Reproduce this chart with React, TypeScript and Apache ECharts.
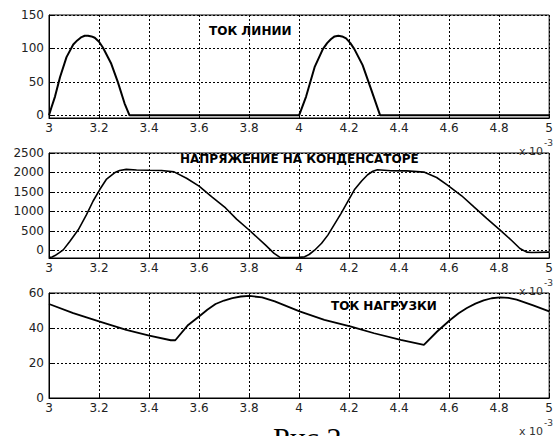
import React, { useEffect, useRef } from "react";
import * as echarts from "echarts";

// ---- data (time in units of 1e-3 s) ----
const lineCurrentT = [3.0, 3.01, 3.024, 3.044, 3.07, 3.097, 3.113, 3.13, 3.143, 3.156, 3.17, 3.183, 3.2, 3.216, 3.249, 3.275, 3.302, 3.322, 4.0, 4.002, 4.028, 4.062, 4.095, 4.112, 4.128, 4.142, 4.157, 4.172, 4.188, 4.205, 4.221, 4.254, 4.287, 4.324, 5.0];
const lineCurrentV = [0, 12, 28, 57, 87, 106, 112, 117, 119, 119, 118, 116, 110, 101, 77, 50, 18, 0, 0, 0, 28, 72, 99, 108, 114, 118, 119, 118, 115, 108, 99, 75, 40, 0, 0];

const voltageT = [3.0, 3.012, 3.024, 3.04, 3.057, 3.083, 3.117, 3.15, 3.176, 3.203, 3.229, 3.262, 3.282, 3.309, 3.35, 3.401, 3.45, 3.5, 3.55, 3.6, 3.65, 3.706, 3.75, 3.799, 3.865, 3.9, 3.925, 3.96, 4.0, 4.022, 4.04, 4.062, 4.09, 4.115, 4.168, 4.221, 4.25, 4.274, 4.295, 4.313, 4.367, 4.43, 4.499, 4.55, 4.592, 4.65, 4.698, 4.75, 4.804, 4.85, 4.883, 4.91, 4.93, 5.0];
const voltageV = [-185, -175, -138, -70, 9, 224, 526, 914, 1259, 1560, 1819, 1991, 2052, 2078, 2062, 2055, 2050, 2015, 1850, 1647, 1380, 1086, 800, 526, 138, -80, -190, -190, -185, -170, -110, 0, 180, 388, 948, 1552, 1780, 1940, 2030, 2069, 2043, 2040, 2009, 1870, 1681, 1400, 1120, 820, 517, 250, 44, -50, -60, -50];

const loadT = [3.0, 3.097, 3.203, 3.309, 3.401, 3.487, 3.505, 3.554, 3.6, 3.633, 3.666, 3.7, 3.733, 3.767, 3.801, 3.852, 3.903, 4.002, 4.101, 4.208, 4.3, 4.406, 4.499, 4.552, 4.605, 4.638, 4.671, 4.705, 4.738, 4.77, 4.804, 4.837, 4.87, 4.936, 5.0];
const loadV = [53.7, 48.5, 43.7, 38.9, 35.7, 33.0, 33.0, 41.4, 46.6, 50.4, 53.7, 55.7, 57.1, 58.0, 58.3, 57.5, 55.2, 49.5, 44.7, 40.8, 37.0, 33.2, 30.3, 38.0, 44.7, 48.4, 51.4, 53.9, 55.8, 57.0, 57.5, 57.2, 56.2, 52.9, 49.5];

const titles = ["ТОК ЛИНИИ", "НАПРЯЖЕНИЕ НА КОНДЕНСАТОРЕ", "ТОК НАГРУЗКИ"];
const yRanges = [
  { min: -4, max: 150, step: 50 },
  { min: -200, max: 2500, step: 500 },
  { min: 0, max: 60, step: 20 },
];
const xMin = 3;
const xMax = 5;
const xStep = 0.2;
const exponentLabel = ["x 10", "-3"];
const figureCaption = "Рис.2";

const zip = (a: number[], b: number[]) => a.map((v, i) => [v, b[i]]);

export default function App() {
  const ref = useRef<HTMLDivElement>(null);
  useEffect(() => {
    if (!ref.current) return;
    const chart = echarts.init(ref.current, undefined, { renderer: "svg" });
    const gridTops = [15, 153, 293];
    const gridHeights = [103, 105, 105];
    const labelFont = { fontFamily: "DejaVu Sans", fontSize: 12, color: "#222" };
    const split = { show: true, lineStyle: { color: "#000", type: [2, 2] as any, width: 1 } };
    const grids = gridTops.map((t, i) => ({
      left: 49, right: 4, top: t, height: gridHeights[i],
      show: true, borderColor: "#000", borderWidth: 1, backgroundColor: "#fff",
    }));
    const xAxes = gridTops.map((_, i) => ({
      type: "value", gridIndex: i, min: xMin, max: xMax, interval: xStep,
      axisLine: { show: true, onZero: false, lineStyle: { color: "#000" } },
      axisTick: { show: true, inside: true, length: 4, lineStyle: { color: "#000" } },
      splitLine: split,
      axisLabel: { ...labelFont, margin: 4, formatter: (v: number) => String(Math.round(v * 10) / 10) },
    }));
    const yAxes = yRanges.map((r, i) => ({
      type: "value", gridIndex: i, min: r.min, max: r.max,
      ...(r.min % r.step === 0 ? { interval: r.step } : { splitNumber: Math.round((r.max - r.min) / r.step) }),
      axisLine: { show: true, onZero: false, lineStyle: { color: "#000" } },
      axisTick: { show: true, inside: true, length: 4, lineStyle: { color: "#000" } },
      splitLine: split,
      axisLabel: {
        ...labelFont, margin: 5,
        formatter: (v: number) => (Math.abs(v % r.step) < 1e-6 ? String(v) : ""),
      },
    }));
    const seriesData = [zip(lineCurrentT, lineCurrentV), zip(voltageT, voltageV), zip(loadT, loadV)];
    const widths = [2, 1.6, 1.8];
    const series = seriesData.map((d, i) => ({
      type: "line", xAxisIndex: i, yAxisIndex: i, data: d, showSymbol: false,
      smooth: false, lineStyle: { color: "#000", width: widths[i] }, z: 5,
    }));
    const titlePos = [
      { x: 209, y: 31 },
      { x: 180, y: 159 },
      { x: 331, y: 306 },
    ];
    const graphic: any[] = titles.map((t, i) => ({
      type: "text", x: titlePos[i].x, y: titlePos[i].y, z: 10,
      style: { text: t, font: "bold 12px 'DejaVu Sans'", fill: "#000", verticalAlign: "middle", align: "left" },
    }));
    [151, 291, 431].forEach((y) => {
      graphic.push({
        type: "text", x: 519, y, z: 10,
        style: { text: exponentLabel[0], font: "11px 'DejaVu Sans'", fill: "#333", verticalAlign: "middle" },
      });
      graphic.push({
        type: "text", x: 544, y: y - 8, z: 10,
        style: { text: exponentLabel[1], font: "9px 'DejaVu Sans'", fill: "#333", verticalAlign: "middle" },
      });
    });
    graphic.push({
      type: "text", x: 273, y: 437, z: 10,
      style: { text: figureCaption, font: "30px 'Liberation Serif'", fill: "#000", verticalAlign: "middle" },
    });
    chart.setOption({
      animation: false,
      backgroundColor: "#fff",
      grid: grids,
      xAxis: xAxes,
      yAxis: yAxes,
      series,
      graphic,
    });
    return () => chart.dispose();
  }, []);
  return <div ref={ref} style={{ position: "fixed", left: 0, top: 0, width: 556, height: 436 }} />;
}
